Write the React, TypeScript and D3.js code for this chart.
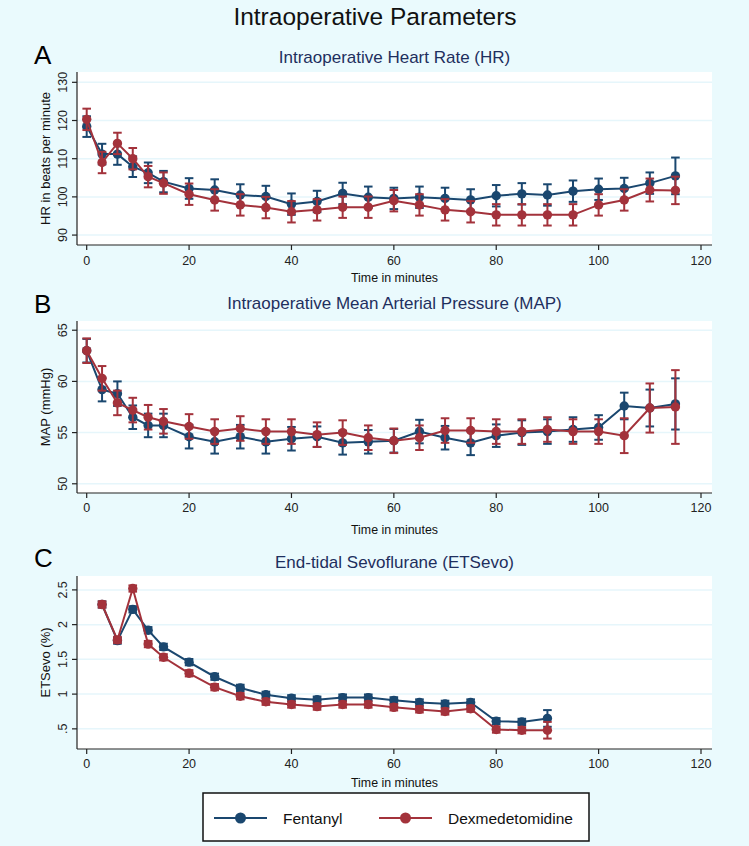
import React from "react";
import * as d3 from "d3";

const times = [0, 3, 6, 9, 12, 15, 20, 25, 30, 35, 40, 45, 50, 55, 60, 65, 70, 75, 80, 85, 90, 95, 100, 105, 110, 115];

const hrFent = [118.4, 111.2, 111.2, 107.9, 106.3, 104.0, 102.2, 101.8, 100.5, 100.1, 98.1, 98.8, 100.9, 99.9, 99.6, 99.9, 99.6, 99.2, 100.3, 100.8, 100.5, 101.5, 102.0, 102.2, 103.6, 105.5];
const hrFentErr = [2.7, 2.7, 2.8, 2.7, 2.7, 2.8, 2.7, 2.8, 2.8, 2.8, 2.8, 2.8, 2.8, 2.8, 2.8, 2.8, 2.8, 2.8, 2.8, 2.8, 2.8, 2.8, 2.8, 2.8, 2.8, 4.8];
const hrDex = [120.3, 109.0, 114.0, 110.0, 105.3, 103.6, 100.7, 99.2, 97.9, 97.2, 96.1, 96.6, 97.3, 97.3, 99.0, 97.9, 96.6, 96.1, 95.3, 95.3, 95.3, 95.3, 97.9, 99.2, 101.8, 101.7];
const hrDexErr = [2.8, 2.8, 2.8, 2.8, 2.8, 2.8, 2.8, 2.8, 2.8, 2.8, 2.8, 2.8, 2.8, 2.8, 2.8, 2.8, 2.8, 2.8, 2.8, 2.8, 2.8, 2.8, 2.8, 2.8, 3.0, 3.6];

const mapFent = [63.0, 59.2, 58.8, 56.5, 55.7, 55.7, 54.6, 54.1, 54.6, 54.1, 54.4, 54.6, 54.0, 54.1, 54.2, 55.1, 54.5, 54.0, 54.7, 55.0, 55.1, 55.3, 55.5, 57.6, 57.4, 57.8];
const mapFentErr = [1.15, 1.15, 1.2, 1.15, 1.15, 1.15, 1.15, 1.15, 1.15, 1.15, 1.15, 1.0, 1.15, 1.15, 1.15, 1.15, 1.15, 1.2, 1.1, 1.2, 1.2, 1.2, 1.2, 1.3, 1.8, 2.5];
const mapDex = [63.0, 60.3, 57.9, 57.2, 56.5, 56.1, 55.6, 55.1, 55.4, 55.1, 55.1, 54.8, 55.0, 54.5, 54.2, 54.5, 55.2, 55.2, 55.1, 55.1, 55.3, 55.1, 55.1, 54.7, 57.4, 57.5];
const mapDexErr = [1.2, 1.2, 1.2, 1.2, 1.2, 1.2, 1.2, 1.2, 1.2, 1.2, 1.2, 1.2, 1.2, 1.2, 1.2, 1.2, 1.2, 1.2, 1.2, 1.2, 1.2, 1.2, 1.2, 1.7, 2.4, 3.6];

const sevoTimes = [3, 6, 9, 12, 15, 20, 25, 30, 35, 40, 45, 50, 55, 60, 65, 70, 75, 80, 85, 90];
const sevoFent = [2.29, 1.77, 2.22, 1.92, 1.68, 1.46, 1.25, 1.09, 0.99, 0.94, 0.92, 0.95, 0.95, 0.91, 0.88, 0.86, 0.88, 0.61, 0.6, 0.65];
const sevoFentErr = [0.045, 0.045, 0.045, 0.045, 0.045, 0.045, 0.045, 0.045, 0.045, 0.045, 0.045, 0.045, 0.045, 0.045, 0.045, 0.045, 0.045, 0.045, 0.045, 0.12];
const sevoDex = [2.29, 1.78, 2.52, 1.72, 1.53, 1.3, 1.1, 0.97, 0.89, 0.85, 0.82, 0.85, 0.85, 0.81, 0.78, 0.75, 0.79, 0.49, 0.48, 0.48];
const sevoDexErr = [0.045, 0.045, 0.045, 0.045, 0.045, 0.045, 0.045, 0.045, 0.045, 0.045, 0.045, 0.045, 0.045, 0.045, 0.045, 0.045, 0.045, 0.045, 0.045, 0.12];

const xTicks = [0, 20, 40, 60, 80, 100, 120];
const hrTicks = [90, 100, 110, 120, 130];
const mapTicks = [50, 55, 60, 65];
const sevoTicks = [0.5, 1, 1.5, 2, 2.5];
const sevoTickLabels = [".5", "1", "1.5", "2", "2.5"];

const seriesNames = ["Fentanyl", "Dexmedetomidine"];

const BLUE = "#1a476f";
const RED = "#a3323b";
const BG = "#eafafd";
const GRID = "#e6f6fb";
const FONT = "'Liberation Sans', Arial, sans-serif";

type PanelProps = {
  letter: string;
  title: string;
  yLabel: string;
  top: number;
  bottom: number;
  yDomain: [number, number];
  yTicks: number[];
  yTickLabels?: string[];
  xs: number[];
  fent: number[];
  fentErr: number[];
  dex: number[];
  dexErr: number[];
  titleY: number;
  letterY: number;
  tickY: number;
  xTitleY: number;
};

const LEFT = 77;
const RIGHT = 712;
const x = d3.scaleLinear().domain([0, 120]).range([86.7, 701]);

function Series({ xs, ys, errs, y, color }: { xs: number[]; ys: number[]; errs: number[]; y: d3.ScaleLinear<number, number>; color: string }) {
  const line = d3
    .line<number>()
    .x((_, i) => x(xs[i]))
    .y((d) => y(d));
  const cap = 4.3;
  return (
    <g>
      <path d={line(ys) || ""} fill="none" stroke={color} strokeWidth={2} />
      {ys.map((v, i) => {
        const cx = x(xs[i]);
        const y1 = y(v + errs[i]);
        const y2 = y(v - errs[i]);
        return (
          <g key={i}>
            <line x1={cx} x2={cx} y1={y1} y2={y2} stroke={color} strokeWidth={2} />
            <line x1={cx - cap} x2={cx + cap} y1={y1} y2={y1} stroke={color} strokeWidth={2} />
            <line x1={cx - cap} x2={cx + cap} y1={y2} y2={y2} stroke={color} strokeWidth={2} />
            <circle cx={cx} cy={y(v)} r={4.7} fill={color} />
          </g>
        );
      })}
    </g>
  );
}

function Panel(p: PanelProps) {
  const y = d3.scaleLinear().domain(p.yDomain).range([p.bottom, p.top]);
  const plotTop = p.top;
  return (
    <g>
      <text x={34} y={p.letterY} fontSize={26} fontFamily={FONT} fill="#000">{p.letter}</text>
      <text x={(LEFT + RIGHT) / 2} y={p.titleY} textAnchor="middle" fontSize={17} fontFamily={FONT} fill="#1e2f5e">{p.title}</text>
      <rect x={LEFT} y={plotTop} width={RIGHT - LEFT} height={p.bottom - plotTop} fill="#fff" />
      {p.yTicks.map((t) => (
        <line key={t} x1={LEFT} x2={RIGHT} y1={y(t)} y2={y(t)} stroke={GRID} strokeWidth={1.5} />
      ))}
      <Series xs={p.xs} ys={p.fent} errs={p.fentErr} y={y} color={BLUE} />
      <Series xs={p.xs} ys={p.dex} errs={p.dexErr} y={y} color={RED} />
      <line x1={LEFT} x2={LEFT} y1={plotTop} y2={p.bottom} stroke="#222" strokeWidth={1.2} />
      <line x1={LEFT} x2={RIGHT} y1={p.bottom} y2={p.bottom} stroke="#222" strokeWidth={1.2} />
      {p.yTicks.map((t, i) => (
        <g key={t}>
          <line x1={LEFT - 5} x2={LEFT} y1={y(t)} y2={y(t)} stroke="#222" strokeWidth={1.2} />
          <text
            transform={`translate(${LEFT - 10},${y(t)}) rotate(-90)`}
            textAnchor="middle"
            fontSize={12.5}
            fontFamily={FONT}
            fill="#222"
          >
            {p.yTickLabels ? p.yTickLabels[i] : t}
          </text>
        </g>
      ))}
      {xTicks.map((t) => (
        <g key={t}>
          <line x1={x(t)} x2={x(t)} y1={p.bottom} y2={p.bottom + 5} stroke="#222" strokeWidth={1.2} />
          <text x={x(t)} y={p.tickY} textAnchor="middle" fontSize={12.5} fontFamily={FONT} fill="#222">{t}</text>
        </g>
      ))}
      <text x={(LEFT + RIGHT) / 2} y={p.xTitleY} textAnchor="middle" fontSize={12.4} fontFamily={FONT} fill="#111">Time in minutes</text>
      <text
        transform={`translate(50,${(plotTop + p.bottom) / 2}) rotate(-90)`}
        textAnchor="middle"
        fontSize={13}
        fontFamily={FONT}
        fill="#111"
      >
        {p.yLabel}
      </text>
    </g>
  );
}

export default function App() {
  const legendItems = [
    { name: seriesNames[0], color: BLUE, lx: 214, tx: 283 },
    { name: seriesNames[1], color: RED, lx: 379, tx: 448 },
  ];
  return (
    <svg width={749} height={846} style={{ position: "absolute", left: 0, top: 0 }}>
      <rect x={0} y={0} width={749} height={846} fill={BG} />
      <text x={375} y={25} textAnchor="middle" fontSize={24.5} fontFamily={FONT} fill="#111">Intraoperative Parameters</text>
      <Panel
        letter="A"
        title="Intraoperative Heart Rate (HR)"
        yLabel="HR in beats per minute"
        top={72}
        bottom={245}
        yDomain={[87.4, 132.7]}
        yTicks={hrTicks}
        xs={times}
        fent={hrFent}
        fentErr={hrFentErr}
        dex={hrDex}
        dexErr={hrDexErr}
        titleY={63}
        letterY={64}
        tickY={265}
        xTitleY={282}
      />
      <Panel
        letter="B"
        title="Intraoperative Mean Arterial Pressure (MAP)"
        yLabel="MAP (mmHg)"
        top={321}
        bottom={493}
        yDomain={[49.1, 65.9]}
        yTicks={mapTicks}
        xs={times}
        fent={mapFent}
        fentErr={mapFentErr}
        dex={mapDex}
        dexErr={mapDexErr}
        titleY={309}
        letterY={313}
        tickY={512}
        xTitleY={534}
      />
      <Panel
        letter="C"
        title="End-tidal Sevoflurane (ETSevo)"
        yLabel="ETSevo (%)"
        top={576}
        bottom={749}
        yDomain={[0.21, 2.7]}
        yTicks={sevoTicks}
        yTickLabels={sevoTickLabels}
        xs={sevoTimes}
        fent={sevoFent}
        fentErr={sevoFentErr}
        dex={sevoDex}
        dexErr={sevoDexErr}
        titleY={568}
        letterY={567}
        tickY={768}
        xTitleY={787}
      />
      <rect x={203} y={793} width={386} height={48} fill="#fff" stroke="#111" strokeWidth={1.5} />
      {legendItems.map((it) => (
        <g key={it.name}>
          <line x1={it.lx} x2={it.lx + 53} y1={818} y2={818} stroke={it.color} strokeWidth={2} />
          <circle cx={it.lx + 26.5} cy={818} r={5.5} fill={it.color} />
          <text x={it.tx} y={823.5} fontSize={15.5} fontFamily={FONT} fill="#111">{it.name}</text>
        </g>
      ))}
    </svg>
  );
}
